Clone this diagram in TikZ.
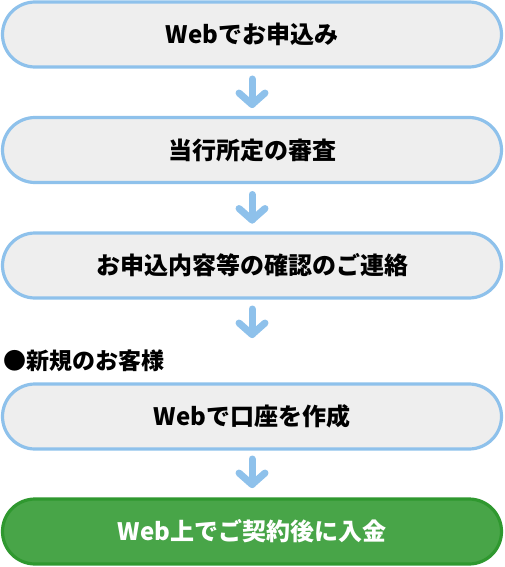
\documentclass[tikz,border=0pt]{standalone}
\usepackage{fontspec}
\usetikzlibrary{calc}
\newfontfamily\jp{Noto Sans CJK JP}
\definecolor{boxfill}{HTML}{EEEEEE}
\definecolor{boxline}{HTML}{8EC1EB}
\definecolor{gfill}{HTML}{48A548}
\definecolor{gline}{HTML}{2F982F}
\begin{document}
\begin{tikzpicture}[x=1pt,y=-1pt,
  stepbox/.style={draw=boxline,fill=boxfill,line width=3.2pt,rounded corners=32.5pt,
    minimum width=499pt,minimum height=65pt,inner sep=0pt,
    font=\jp\bfseries\fontsize{24}{28}\selectfont,text=black},
  finalbox/.style={stepbox,draw=gline,fill=gfill,text=white},
  flowarrow/.style={draw=boxline,line width=7pt,line cap=round,line join=round}]
\useasboundingbox (0,0) rectangle (504,567);
\node[stepbox] (b1) at (252,34.5) {Webでお申込み};
\node[stepbox] (b2) at (252,150) {当行所定の審査};
\node[stepbox] (b3) at (252,265.5) {お申込内容等の確認のご連絡};
\node[anchor=west,inner sep=0pt,font=\jp\bfseries\fontsize{23}{26}\selectfont] (lbl) at (3,361) {●新規のお客様};
\node[stepbox] (b4) at (252,416.5) {Webで口座を作成};
\node[finalbox] (b5) at (252,531.5) {Web上でご契約後に入金};
\coordinate (m1) at (252,92);
\coordinate (m2) at (252,207.5);
\coordinate (m3) at (252,322);
\coordinate (m4) at (252,472);
\foreach \n in {1,2,3,4}{
  \draw[flowarrow] ([yshift=13pt]m\n) -- ([yshift=-12.5pt]m\n);
  \draw[flowarrow] ([xshift=-13pt,yshift=-1pt]m\n) -- ([yshift=-12.5pt]m\n) -- ([xshift=13pt,yshift=-1pt]m\n);
}
\end{tikzpicture}
\end{document}
